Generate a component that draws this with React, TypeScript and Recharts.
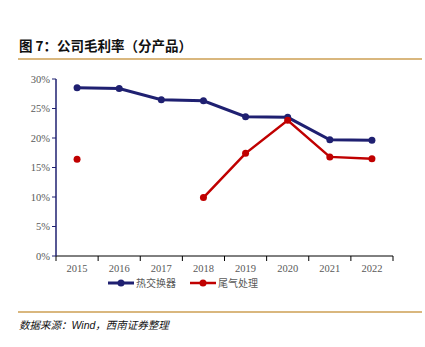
import React from "react";
import { LineChart, Line, XAxis, YAxis } from "recharts";

const years = ["2015", "2016", "2017", "2018", "2019", "2020", "2021", "2022"];
const heatExchanger = [0.285, 0.284, 0.265, 0.263, 0.236, 0.235, 0.197, 0.196];
const exhaust: (number | null)[] = [0.164, null, null, 0.099, 0.174, 0.23, 0.168, 0.165];
const yTicks = [0, 0.05, 0.1, 0.15, 0.2, 0.25, 0.3];

const data = years.map((y, i) => ({
  year: y,
  heat: heatExchanger[i],
  exhaust: exhaust[i],
}));

const BLUE = "#1f2071";
const RED = "#c00000";
const TICK = "#595959";
const TICK_SIZE = 6;
const TICK_MARGIN = 3;

const XTick = (props: any) => {
  const { x, y, payload, index } = props;
  const off = payload.offset || 0;
  const axisY = y - TICK_SIZE - TICK_MARGIN;
  const last = index === years.length - 1;
  return (
    <g>
      <line x1={x - off} y1={axisY} x2={x - off} y2={axisY + 5} stroke="#000" />
      {last && <line x1={x + off} y1={axisY} x2={x + off} y2={axisY + 5} stroke="#000" />}
      <text x={x} y={y} dy="0.71em" textAnchor="middle" fill={TICK} fontSize={10.5} fontFamily="'Liberation Serif'">
        {payload.value}
      </text>
    </g>
  );
};

const legendItems = [
  { c: BLUE, t: "热交换器", w: 3 },
  { c: RED, t: "尾气处理", w: 2.5 },
];

export default function App() {
  return (
    <div style={{ position: "absolute", left: 0, top: 0, width: 425, height: 347, background: "#fff", overflow: "hidden" }}>
      <div style={{ position: "absolute", left: 19, top: 36, fontFamily: "'Noto Sans CJK SC'", fontWeight: 700, fontSize: 13.5, color: "#111", whiteSpace: "nowrap", lineHeight: "18px" }}>
        图 7：公司毛利率（分产品）
      </div>
      <div style={{ position: "absolute", left: 18, top: 58, width: 404, height: 2, background: "#d9b77e" }} />
      <div style={{ position: "absolute", left: 0, top: 0 }}>
        <LineChart width={425} height={300} data={data} margin={{ top: 79, right: 32, left: 0, bottom: 14 }}>
          <XAxis
            dataKey="year"
            type="category"
            scale="band"
            axisLine={{ stroke: "#000", strokeWidth: 1 }}
            tickLine={false}
            tickSize={TICK_SIZE}
            tickMargin={TICK_MARGIN}
            height={30}
            interval={0}
            tick={<XTick />}
          />
          <YAxis
            domain={[0, 0.3]}
            ticks={yTicks}
            width={56}
            tickFormatter={(v: number) => `${Math.round(v * 100)}%`}
            axisLine={{ stroke: BLUE, strokeWidth: 1.5 }}
            tickLine={{ stroke: BLUE }}
            tickSize={4}
            tickMargin={2}
            interval={0}
            tick={{ fill: TICK, fontSize: 10.5, fontFamily: "'Liberation Serif'" }}
          />
          <Line
            dataKey="heat"
            stroke={BLUE}
            strokeWidth={3}
            dot={{ r: 3.5, fill: BLUE, stroke: BLUE, strokeWidth: 0 }}
            isAnimationActive={false}
          />
          <Line
            dataKey="exhaust"
            stroke={RED}
            strokeWidth={2.5}
            dot={{ r: 3.5, fill: RED, stroke: RED, strokeWidth: 0 }}
            connectNulls={false}
            isAnimationActive={false}
          />
        </LineChart>
      </div>
      <div style={{ position: "absolute", left: 108, top: 277, display: "flex", alignItems: "center", fontFamily: "'Noto Sans CJK SC'", fontSize: 10, color: TICK, lineHeight: "12px" }}>
        {legendItems.map((it, i) => (
          <div key={i} style={{ display: "flex", alignItems: "center", marginRight: 14 }}>
            <svg width={26} height={10}>
              <line x1={0} y1={5} x2={26} y2={5} stroke={it.c} strokeWidth={it.w} />
              <circle cx={13} cy={5} r={3.5} fill={it.c} />
            </svg>
            <span style={{ marginLeft: 2 }}>{it.t}</span>
          </div>
        ))}
      </div>
      <div style={{ position: "absolute", left: 18, top: 311, width: 404, height: 2, background: "#d9b77e" }} />
      <div style={{ position: "absolute", left: 19, top: 316, fontFamily: "'Noto Sans CJK SC'", fontStyle: "italic", fontSize: 10.5, color: "#111", whiteSpace: "nowrap", lineHeight: "18px" }}>
        数据来源：<span style={{ fontFamily: "Arial, 'Liberation Sans'" }}>Wind</span>，西南证券整理
      </div>
    </div>
  );
}
